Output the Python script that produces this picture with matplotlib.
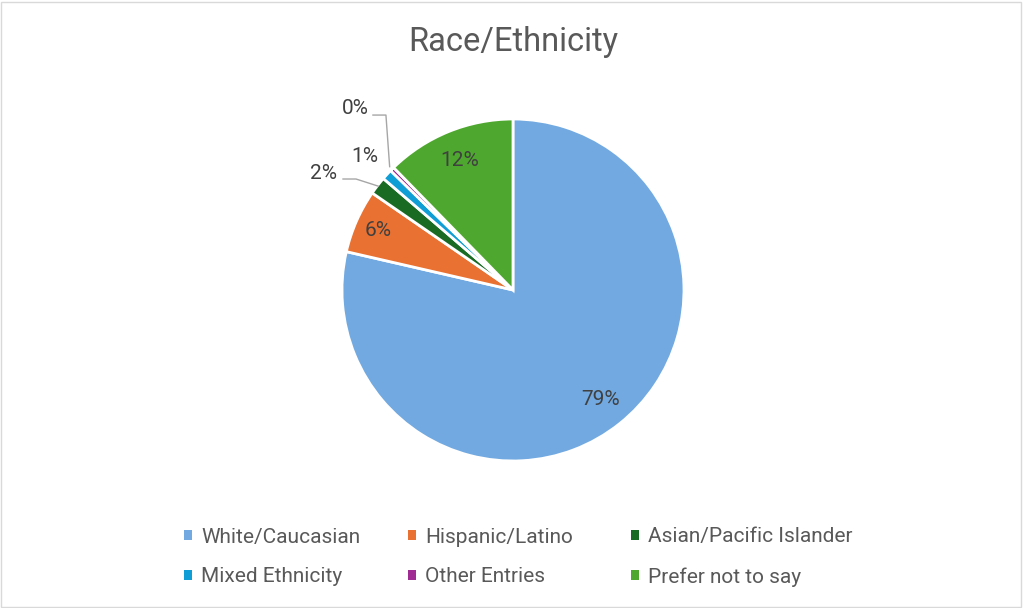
import matplotlib.pyplot as plt
from matplotlib.patches import Rectangle, Patch
import numpy as np

# data
categories = ["White/Caucasian", "Hispanic/Latino", "Asian/Pacific Islander",
              "Mixed Ethnicity", "Other Entries", "Prefer not to say"]
shares = [78.6, 6.0, 1.7, 1.0, 0.4, 12.3]
pct_labels = ["79%", "6%", "2%", "1%", "0%", "12%"]
colors = ["#71A9E0", "#E97132", "#196B24", "#0F9ED5", "#A02B93", "#4EA72E"]

plt.rcParams['font.family'] = ['Roboto', 'DejaVu Sans']

fig = plt.figure(figsize=(10.23, 6.08), dpi=100)
fig.patches.append(Rectangle((0.001, 0.001), 0.997, 0.996, transform=fig.transFigure,
                             fill=False, edgecolor="#D9D9D9", linewidth=1))

ax = fig.add_axes([0.3343, 0.2418, 0.3343, 0.5625])
wedges, _ = ax.pie(shares, colors=colors, startangle=90, counterclock=False,
                   radius=1, wedgeprops=dict(edgecolor="white", linewidth=2))
ax.set_xlim(-1, 1)
ax.set_ylim(-1, 1)
ax.set_aspect("equal")
ax.axis("off")

fs = 15
tc = "#404040"
# label placement: inside ones at a fraction of the radius, small ones outside
for i, w in enumerate(wedges):
    mid = np.deg2rad((w.theta1 + w.theta2) / 2)
    if i in (0, 1, 5):
        r = 0.82 if i != 1 else 0.86
        ax.text(r * np.cos(mid), r * np.sin(mid), pct_labels[i], ha="center", va="center",
                fontsize=fs, color=tc)

lc = "#A6A6A6"
# Asian 2%
a = np.deg2rad((wedges[2].theta1 + wedges[2].theta2) / 2)
ax.plot([-0.994, -0.918, 0.995 * np.cos(a)], [0.649, 0.649, 0.995 * np.sin(a)],
        color=lc, lw=1, clip_on=False)
ax.text(-1.111, 0.684, pct_labels[2], ha="center", va="center", fontsize=fs, color=tc)
# Mixed 1%
ax.text(-0.865, 0.778, pct_labels[3], ha="center", va="center", fontsize=fs, color=tc)
# Other 0%
a = np.deg2rad((wedges[4].theta1 + wedges[4].theta2) / 2)
ax.plot([-0.819, -0.743, 1.02 * np.cos(a)], [1.023, 1.023, 1.02 * np.sin(a)],
        color=lc, lw=1, clip_on=False)
ax.text(-0.924, 1.064, pct_labels[4], ha="center", va="center", fontsize=fs, color=tc)

fig.text(0.5015, 1 - 42 / 608, "Race/Ethnicity", ha="center", va="center",
         fontsize=23.5, color="#595959")

# legend laid out as three columns, one legend each
handles = [Patch(facecolor=c, edgecolor="none") for c in colors]
col_x = [184, 408, 631]
for k in range(3):
    idx = [k, k + 3]
    leg = fig.legend([handles[i] for i in idx], [categories[i] for i in idx], ncol=1,
                     loc="center left", bbox_to_anchor=(col_x[k] / 1023, 1 - 557 / 608),
                     frameon=False, fontsize=fs, labelcolor="#595959",
                     handlelength=0.38, handleheight=0.38, handletextpad=0.45,
                     labelspacing=1.0, borderpad=0, borderaxespad=0)

fig.savefig("out.png", dpi=100)
